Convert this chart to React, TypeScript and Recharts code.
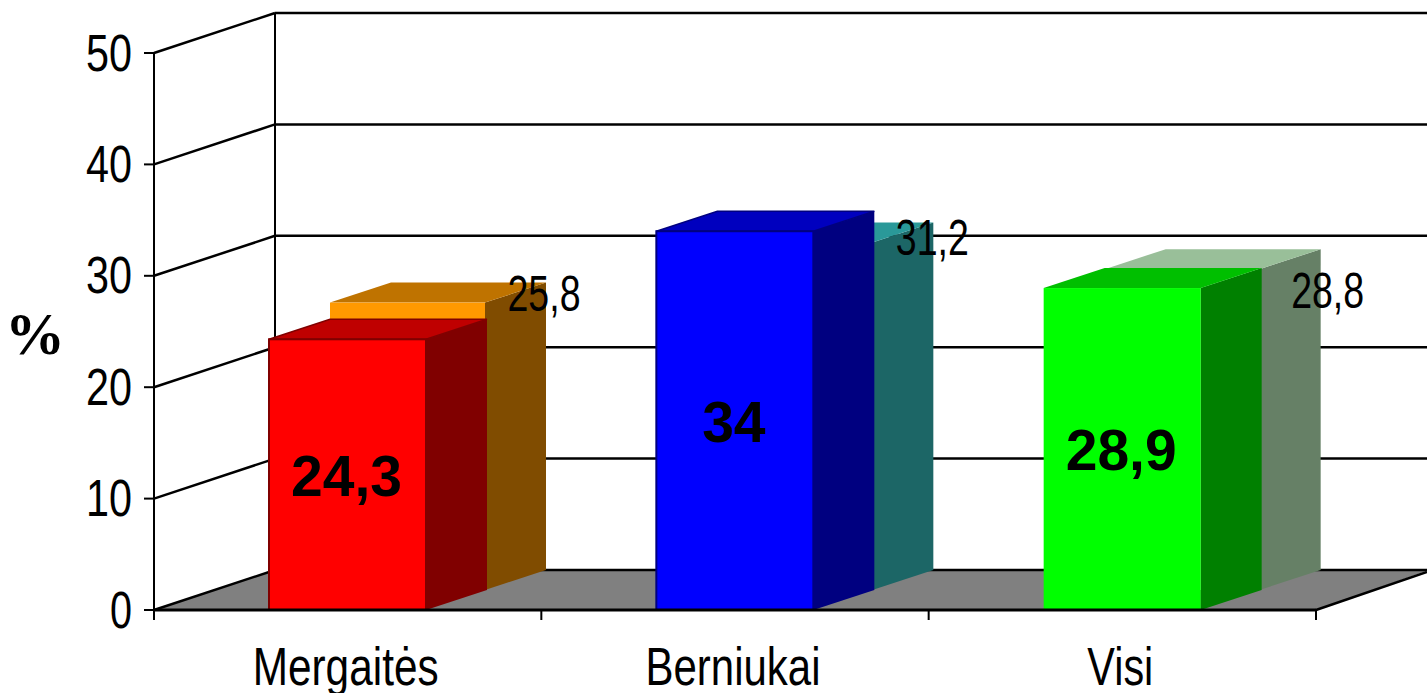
import React from 'react';
import { BarChart, Bar, XAxis, YAxis, LabelList, Label, CartesianGrid } from 'recharts';

const categories = ['Mergaitės', 'Berniukai', 'Visi'];
const frontValues = [24.3, 34, 28.9];
const backValues = [25.8, 31.2, 28.8];
const yTicks = [0, 10, 20, 30, 40, 50];

const frontFaces = ['#FF0000', '#0000FF', '#00FF00'];
const frontTops = ['#BF0000', '#0000BF', '#00BF00'];
const frontSides = ['#800000', '#000080', '#008000'];
const frontEdges = ['#800000', '#000080', 'none'];
const backFaces = ['#FF9900', '#38CCCC', '#CCFFCC'];
const backTops = ['#BF7300', '#2A9999', '#99BF99'];
const backSides = ['#804C00', '#1C6666', '#668066'];

const categoryTextWidths = [186, 175, 66];
const backLabelOffsets = [
  { dx: 275, dy: -12 },
  { dx: 276, dy: -7 },
  { dx: 284, dy: 19 },
];

const data = categories.map((category, i) => ({
  category,
  front: frontValues[i],
  back: backValues[i],
}));

const W = 1427;
const H = 693;
const LEFT = 154;
const RIGHT_GAP = 111;
const TOP = 53;
const BOTTOM_GAP = 83;
const BASE_Y = H - BOTTOM_GAP;
const DEPTH_X = 121;
const DEPTH_Y = 40;
const BAR_DX = 61;
const BAR_DY = 20;
const BAND = (W - LEFT - RIGHT_GAP) / 3;
const LINE = '#000';
const FONT = '"Liberation Sans", Arial, sans-serif';

function box(x: number, y: number, w: number, h: number, face: string, top: string, side: string, edge: string) {
  return (
    <g>
      <polygon
        points={`${x + w},${y} ${x + w + BAR_DX},${y - BAR_DY} ${x + w + BAR_DX},${y + h - BAR_DY} ${x + w},${y + h}`}
        fill={side}
      />
      <polygon
        points={`${x},${y} ${x + BAR_DX},${y - BAR_DY} ${x + w + BAR_DX},${y - BAR_DY} ${x + w},${y}`}
        fill={top}
        stroke={edge}
        strokeWidth={edge === 'none' ? 0 : 1.5}
      />
      <rect x={x} y={y} width={w} height={h} fill={face} stroke={edge} strokeWidth={edge === 'none' ? 0 : 2} />
    </g>
  );
}

const BackBar = (p: any) =>
  box(p.x + BAR_DX, p.y - BAR_DY, p.width - 2, p.height, backFaces[p.index], backTops[p.index], backSides[p.index], 'none');

const FrontBar = (p: any) =>
  box(p.x, p.y, p.width, p.height, frontFaces[p.index], frontTops[p.index], frontSides[p.index], frontEdges[p.index]);

// Walls and floor of the 3D box: drawn by the grid, which lies behind the bars.
const WallLine = (p: any) => {
  const y = p.y1;
  const isFloor = Math.abs(y - BASE_Y) < 1;
  const isTop = Math.abs(y - TOP) < 1;
  return (
    <g key={p.key}>
      {isFloor && (
        <polygon
          points={`${LEFT},${y} ${LEFT + DEPTH_X},${y - DEPTH_Y} ${W + 2},${y - DEPTH_Y} ${W - RIGHT_GAP},${y}`}
          fill="#808080"
        />
      )}
      {isFloor && <line x1={W - RIGHT_GAP} y1={y} x2={W} y2={y - DEPTH_Y + 2} stroke={LINE} strokeWidth={2.5} />}
      <line x1={LEFT} y1={y} x2={LEFT + DEPTH_X} y2={y - DEPTH_Y} stroke={LINE} strokeWidth={2.5} />
      <line x1={LEFT + DEPTH_X} y1={y - DEPTH_Y} x2={W} y2={y - DEPTH_Y} stroke={LINE} strokeWidth={2.5} />
      {isTop && (
        <line
          x1={LEFT + DEPTH_X}
          y1={y - DEPTH_Y}
          x2={LEFT + DEPTH_X}
          y2={BASE_Y - DEPTH_Y}
          stroke={LINE}
          strokeWidth={2}
        />
      )}
    </g>
  );
};

const YTick = (p: any) => {
  const { y, payload } = p;
  return (
    <g>
      <line x1={LEFT - 10} y1={y} x2={LEFT} y2={y} stroke={LINE} strokeWidth={2} />
      <text
        x={LEFT - 22}
        y={y + 17.5}
        textAnchor="end"
        fontFamily={FONT}
        fontSize={52}
        fill="#000"
        textLength={payload.value === 0 ? 22 : 46}
        lengthAdjust="spacingAndGlyphs"
      >
        {payload.value}
      </text>
    </g>
  );
};

const XTick = (p: any) => {
  const { x, index, payload } = p;
  const left = x - BAND / 2;
  return (
    <g>
      <line x1={left} y1={BASE_Y} x2={left} y2={BASE_Y + 10} stroke={LINE} strokeWidth={2} />
      {index === categories.length - 1 && (
        <line x1={x + BAND / 2} y1={BASE_Y} x2={x + BAND / 2} y2={BASE_Y + 10} stroke={LINE} strokeWidth={2} />
      )}
      <text
        x={x - 2}
        y={685}
        textAnchor="middle"
        fontFamily={FONT}
        fontSize={53}
        fill="#000"
        textLength={categoryTextWidths[index]}
        lengthAdjust="spacingAndGlyphs"
      >
        {payload.value}
      </text>
    </g>
  );
};

const fmt = (v: number) => String(v).replace('.', ',');

const BackLabel = (p: any) => {
  const o = backLabelOffsets[p.index];
  return (
    <text
      x={p.x + o.dx}
      y={p.y + o.dy}
      textAnchor="middle"
      fontFamily={FONT}
      fontSize={50}
      fill="#000"
      textLength={73}
      lengthAdjust="spacingAndGlyphs"
    >
      {fmt(p.value)}
    </text>
  );
};

const FrontLabel = (p: any) => (
  <text
    x={p.x + p.width / 2 - 1}
    y={p.y + p.height / 2 + 21}
    textAnchor="middle"
    fontFamily={FONT}
    fontWeight="bold"
    fontSize={57}
    fill="#000"
  >
    {fmt(p.value)}
  </text>
);

export default function App() {
  return (
    <div style={{ position: 'absolute', left: 0, top: 0, width: W, height: H, background: '#fff' }}>
      <BarChart
        width={W}
        height={H}
        data={data}
        margin={{ top: TOP, right: RIGHT_GAP, bottom: 0, left: 0 }}
        barSize={157}
        barGap={-157}
      >
        <CartesianGrid horizontal={WallLine} vertical={false} />
        <XAxis
          dataKey="category"
          height={BOTTOM_GAP}
          interval={0}
          tick={XTick}
          tickLine={false}
          axisLine={{ stroke: LINE, strokeWidth: 3 }}
        />
        <YAxis
          domain={[0, 50]}
          ticks={yTicks}
          width={LEFT}
          interval={0}
          tick={YTick}
          tickLine={false}
          axisLine={{ stroke: LINE, strokeWidth: 2 }}
        >
          <Label
            content={() => (
              <text
                x={35}
                y={354}
                textAnchor="middle"
                fontFamily='"Liberation Serif", serif'
                fontWeight="bold"
                fontSize={60}
                fill="#000"
              >
                %
              </text>
            )}
          />
        </YAxis>
        <Bar dataKey="back" shape={BackBar} isAnimationActive={false}>
          <LabelList dataKey="back" content={BackLabel} />
        </Bar>
        <Bar dataKey="front" shape={FrontBar} isAnimationActive={false}>
          <LabelList dataKey="front" content={FrontLabel} />
        </Bar>
      </BarChart>
    </div>
  );
}
